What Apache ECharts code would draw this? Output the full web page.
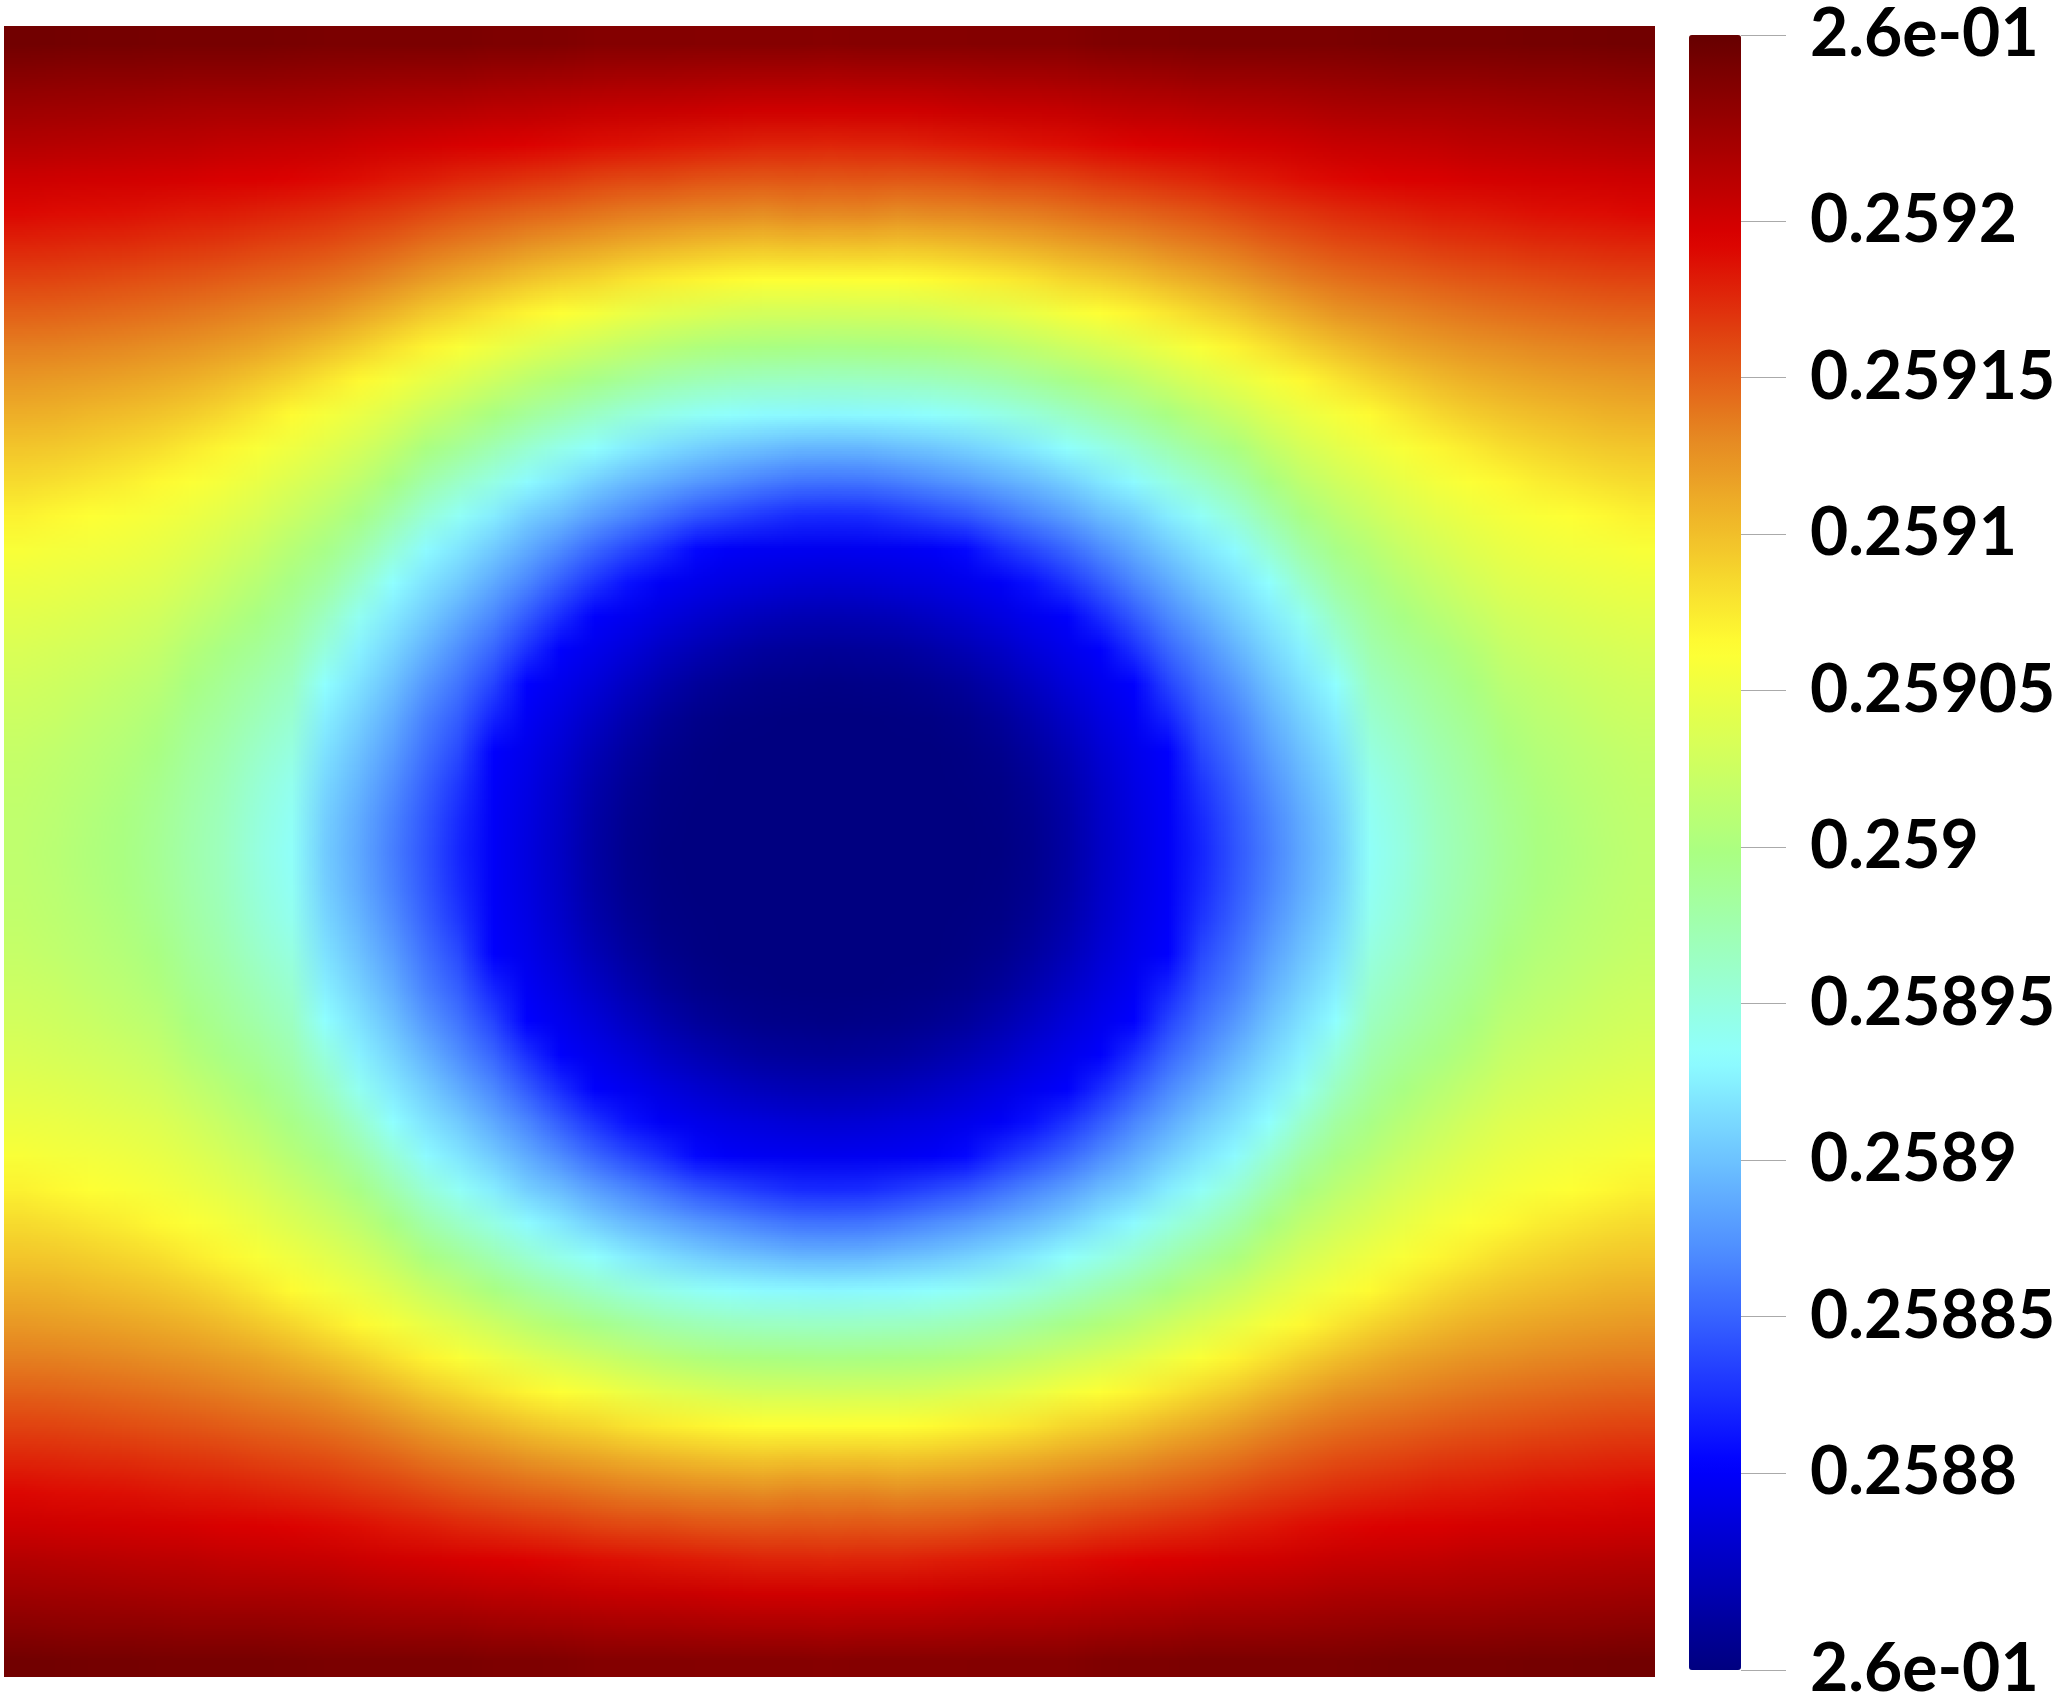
<!DOCTYPE html>
<html>
<head>
<meta charset="utf-8">
<title>Scalar field</title>
<script src="https://cdn.jsdelivr.net/npm/echarts@6/dist/echarts.min.js"></script>
<style>
  html, body { margin: 0; padding: 0; background: #fff; }
  #page { position: relative; width: 2055px; height: 1692px; overflow: hidden; }
  /* one canvas pixel per cell, the browser smooths it when scaled up */
  #field { position: absolute; left: 4px; top: 26px; width: 49px; height: 49px; transform-origin: 0 0; transform: scale(33.7); }
  #bar { position: absolute; left: 0; top: 0; width: 2055px; height: 1692px; }
</style>
</head>
<body>
<div id="page">
  <div id="field"></div>
  <div id="bar"></div>
</div>
<script>
// field, in 1e-6 above 0.258
// one list per column going right from the centre, each list going up from the centre.
// the picture is mirror symmetric about both midlines
const fieldColumns = [
  [737,737,737,737,737,740,749,763,780,794,822,858,893,929,963,996,1029,1062,1098,1131,1154,1177,1200,1220,1241],
  [737,737,737,737,737,741,750,764,781,795,823,859,894,930,964,997,1030,1063,1099,1132,1155,1178,1201,1221,1242],
  [737,737,737,737,738,742,752,767,784,796,829,864,898,931,965,998,1030,1063,1097,1129,1154,1178,1201,1221,1242],
  [737,737,737,737,739,746,757,772,787,799,836,871,902,934,967,1000,1032,1066,1099,1131,1155,1180,1202,1222,1242],
  [737,737,738,739,743,751,764,778,792,806,844,878,908,938,971,1004,1037,1070,1102,1132,1157,1182,1204,1223,1242],
  [738,739,740,744,750,760,772,786,798,823,856,887,915,945,977,1010,1041,1074,1106,1135,1160,1184,1205,1224,1243],
  [744,745,748,753,761,771,783,794,810,837,868,896,923,953,985,1017,1048,1079,1110,1137,1161,1186,1206,1224,1243],
  [755,756,759,765,773,783,792,801,827,852,881,907,934,963,994,1025,1056,1086,1115,1141,1164,1188,1207,1225,1243],
  [772,773,775,780,786,793,801,823,847,870,896,920,944,974,1004,1033,1062,1091,1120,1145,1168,1191,1209,1227,1245],
  [786,787,789,792,797,803,825,846,867,887,907,931,957,985,1013,1041,1069,1097,1125,1148,1171,1193,1211,1228,1246],
  [799,799,800,802,819,835,851,868,886,904,923,947,972,998,1025,1051,1077,1105,1131,1152,1174,1195,1212,1229,1246],
  [820,822,828,837,847,858,871,887,904,919,937,961,986,1011,1036,1060,1086,1112,1136,1156,1177,1197,1214,1231,1248],
  [843,845,850,857,865,877,891,905,918,931,954,977,999,1023,1046,1070,1094,1120,1141,1161,1181,1199,1215,1231,1248],
  [864,866,872,880,889,899,910,921,933,955,976,997,1017,1037,1057,1080,1105,1129,1148,1166,1184,1201,1216,1232,1248],
  [886,888,893,900,908,917,926,940,959,978,996,1014,1031,1048,1067,1091,1114,1136,1153,1170,1188,1203,1218,1233,1248],
  [905,907,911,917,924,933,950,965,981,995,1011,1027,1042,1057,1077,1100,1123,1141,1158,1174,1191,1206,1220,1234,1248],
  [936,938,942,949,957,965,974,984,995,1008,1023,1037,1051,1066,1087,1108,1128,1145,1161,1177,1193,1207,1221,1235,1249],
  [949,951,955,961,969,977,987,997,1009,1021,1034,1047,1059,1076,1095,1115,1132,1148,1164,1179,1195,1208,1222,1236,1250],
  [966,967,970,975,981,988,996,1008,1020,1031,1043,1055,1068,1085,1102,1120,1136,1151,1167,1182,1196,1209,1222,1236,1250],
  [977,978,981,985,991,998,1007,1018,1030,1040,1050,1061,1075,1092,1108,1124,1139,1154,1169,1183,1198,1211,1223,1236,1250],
  [989,990,993,998,1004,1011,1019,1028,1038,1047,1056,1067,1082,1097,1112,1127,1142,1156,1171,1185,1199,1212,1224,1237,1250],
  [998,999,1002,1006,1011,1017,1025,1033,1042,1051,1060,1073,1087,1101,1115,1130,1144,1158,1173,1187,1200,1213,1225,1238,1251],
  [1004,1005,1008,1011,1016,1022,1029,1037,1045,1054,1063,1077,1091,1104,1118,1132,1146,1160,1174,1188,1201,1214,1226,1238,1251],
  [1010,1011,1013,1016,1021,1026,1032,1040,1048,1056,1067,1081,1094,1107,1120,1134,1148,1162,1176,1189,1202,1215,1227,1239,1252],
  [1014,1015,1017,1020,1024,1029,1035,1042,1050,1059,1071,1084,1096,1109,1122,1135,1149,1163,1177,1191,1203,1216,1228,1240,1253]
]

const rangeMin = 0.2587371
const rangeMax = 0.2592594
const barColors = ['#000080', '#0000ff', '#4b87ff', '#8fffff', '#aaff82', '#ffff33', '#e68c23', '#dc0000', '#660000']
const tickValues = [rangeMin, 0.2588, 0.25885, 0.2589, 0.25895, 0.259, 0.25905, 0.2591, 0.25915, 0.2592, rangeMax]
const tickLabels = ['2.6e-01', '0.2588', '0.25885', '0.2589', '0.25895', '0.259', '0.25905', '0.2591', '0.25915', '0.2592', '2.6e-01']

const half = fieldColumns.length - 1
const cells = half * 2 + 1
const heatData = []
for (let x = 0; x < cells; x++) {
  for (let y = 0; y < cells; y++) {
    const n = fieldColumns[Math.abs(x - half)][Math.abs(y - half)]
    heatData.push([x, y, 0.258 + n * 1e-6])
  }
}
const cats = Array.from({ length: cells }, (_, i) => i)

const fieldChart = echarts.init(document.getElementById('field'), null, { devicePixelRatio: 1 })
fieldChart.setOption({
  animation: false,
  grid: { left: 0, top: 0, width: cells, height: cells, outerBoundsMode: 'none' },
  xAxis: { type: 'category', data: cats, show: false },
  yAxis: { type: 'category', data: cats, show: false },
  visualMap: { show: false, min: rangeMin, max: rangeMax, dimension: 2, inRange: { color: barColors } },
  series: [{
    // heatmap rects overlap by a pixel at this size, so each cell is drawn by hand
    type: 'custom',
    data: heatData,
    silent: true,
    encode: { x: 0, y: 1 },
    renderItem: (params, api) => {
      const p = api.coord([api.value(0), api.value(1)])
      return {
        type: 'rect',
        shape: { x: Math.round(p[0] - 0.5), y: Math.round(p[1] - 0.5), width: 1, height: 1 },
        style: { fill: api.visual('color') }
      }
    }
  }]
})

const barChart = echarts.init(document.getElementById('bar'))
barChart.setOption({
  animation: false,
  grid: { left: 1741, top: 35, width: 1, height: 1635, outerBoundsMode: 'none' },
  xAxis: { type: 'value', show: false },
  // ticks stick out to the right of the bar, so the axis sits on that side
  yAxis: {
    type: 'value',
    position: 'right',
    min: rangeMin,
    max: rangeMax,
    splitLine: { show: false },
    axisLine: { show: false },
    axisTick: {
      show: true,
      length: 45,
      customValues: tickValues,
      lineStyle: { color: '#aaaaaa', width: 1 }
    },
    axisLabel: {
      show: true,
      margin: 68,
      customValues: tickValues,
      color: '#000',
      fontFamily: 'Lato',
      fontWeight: 'bold',
      fontSize: 66,
      padding: [0, 0, 32, 0],
      formatter: (v) => tickLabels[tickValues.indexOf(v)]
    }
  },
  visualMap: {
    type: 'continuous',
    min: rangeMin,
    max: rangeMax,
    left: 1689,
    top: 35,
    itemWidth: 52,
    itemHeight: 1635,
    calculable: false,
    hoverLink: false,
    text: null,
    padding: 0,
    inRange: { color: barColors }
  }
})
</script>
</body>
</html>
